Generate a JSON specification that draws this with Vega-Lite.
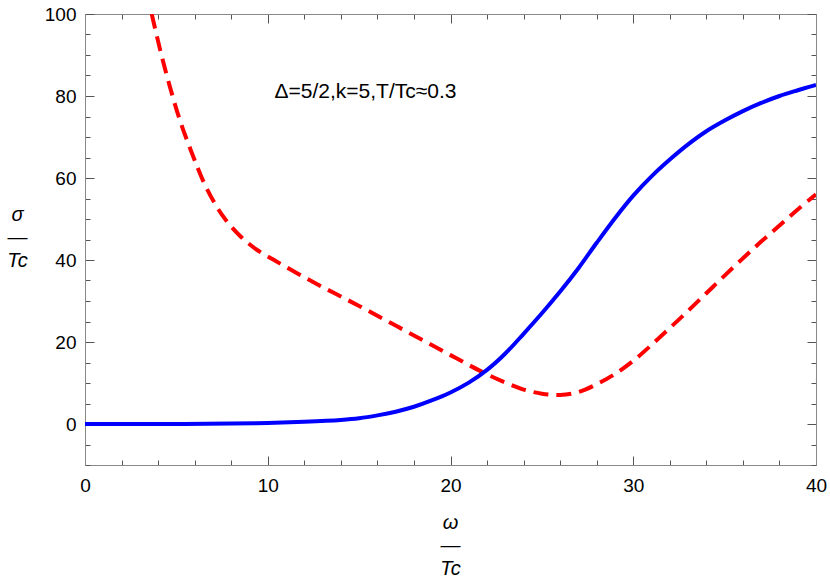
{
  "$schema": "https://vega.github.io/schema/vega-lite/v6.json",
  "width": 731,
  "height": 451,
  "autosize": "none",
  "padding": {"left": 85, "top": 14, "right": 14, "bottom": 120},
  "background": "white",
  "config": {"view": {"stroke": null}, "font": "Liberation Sans"},
  "datasets": {
    "red": [
      {"w": 3.65, "s": 100}, {"w": 4.1, "s": 91.5}, {"w": 4.6, "s": 83}, {"w": 5.2, "s": 74},
      {"w": 5.9, "s": 65.5}, {"w": 6.6, "s": 58}, {"w": 7.5, "s": 51}, {"w": 8.5, "s": 45.8},
      {"w": 9.4, "s": 42.5}, {"w": 10.3, "s": 40.1}, {"w": 11, "s": 38.3}, {"w": 12, "s": 35.8},
      {"w": 13, "s": 33.4}, {"w": 14, "s": 31.1}, {"w": 15, "s": 28.8}, {"w": 16, "s": 26.4},
      {"w": 17, "s": 24}, {"w": 18, "s": 21.6}, {"w": 19, "s": 19.2}, {"w": 20, "s": 16.8},
      {"w": 21, "s": 14.4}, {"w": 22, "s": 12.1}, {"w": 23, "s": 10.1}, {"w": 24, "s": 8.4},
      {"w": 25, "s": 7.4}, {"w": 26, "s": 7.1}, {"w": 27, "s": 7.8}, {"w": 28, "s": 9.7},
      {"w": 29, "s": 12.2}, {"w": 30, "s": 15.4}, {"w": 31, "s": 19.3}, {"w": 32, "s": 23.4},
      {"w": 33, "s": 27.6}, {"w": 34, "s": 31.9}, {"w": 35, "s": 36.2}, {"w": 36, "s": 40.4},
      {"w": 37, "s": 44.5}, {"w": 38, "s": 48.4}, {"w": 39, "s": 52.3}, {"w": 40, "s": 56}
    ],
    "blue": [
      {"w": 0, "s": 0}, {"w": 4, "s": 0}, {"w": 8, "s": 0.1}, {"w": 10, "s": 0.25},
      {"w": 12, "s": 0.55}, {"w": 14, "s": 1.0}, {"w": 15, "s": 1.4}, {"w": 16, "s": 2.1},
      {"w": 17, "s": 3.0}, {"w": 18, "s": 4.2}, {"w": 19, "s": 5.8}, {"w": 20, "s": 7.7},
      {"w": 21, "s": 10.1}, {"w": 22, "s": 13.2}, {"w": 23, "s": 17.2}, {"w": 24, "s": 22},
      {"w": 25, "s": 27}, {"w": 26, "s": 32.3}, {"w": 27, "s": 38}, {"w": 28, "s": 44.2},
      {"w": 29, "s": 50.2}, {"w": 30, "s": 55.7}, {"w": 31, "s": 60.4}, {"w": 32, "s": 64.5},
      {"w": 33, "s": 68.2}, {"w": 34, "s": 71.4}, {"w": 35, "s": 74}, {"w": 36, "s": 76.3},
      {"w": 37, "s": 78.3}, {"w": 38, "s": 80}, {"w": 39, "s": 81.4}, {"w": 40, "s": 82.7}
    ],
    "note": [{"w": 10.37, "s": 81, "label": "Δ=5/2,k=5,T/Tc≈0.3"}]
  },
  "layer": [
    {
      "data": {"name": "red"},
      "mark": {"type": "line", "color": "#ff0000", "strokeWidth": 4, "strokeDash": [15, 8], "interpolate": "catmull-rom", "clip": true},
      "encoding": {
        "x": {"field": "w", "type": "quantitative",
          "scale": {"domain": [0, 40], "nice": false, "zero": false},
          "axis": {"orient": "bottom", "values": [0,2,4,6,8,10,12,14,16,18,20,22,24,26,28,30,32,34,36,38,40],
            "tickSize": {"condition": {"test": "datum.value % 10 === 0", "value": -9}, "value": -5},
            "labelExpr": "datum.value % 10 === 0 ? datum.label : ''",
            "labelFont": "Liberation Sans", "labelFontSize": 19, "labelColor": "black", "labelPadding": 20, "labelFlush": false,
            "labelBaseline": "top",
            "domainColor": "#888888", "tickColor": "#555555", "grid": false,
            "title": ["ω", "—", "Tc"], "titleFont": "Liberation Sans", "titleFontSize": 20, "titleFontStyle": "italic", "titleFontWeight": "normal",
            "titleColor": "black", "titleLineHeight": 23, "titleBaseline": "middle", "titleAlign": "center", "titleX": 365, "titleY": 57, "titleAnchor": null}},
        "y": {"field": "s", "type": "quantitative",
          "scale": {"domain": [-10, 100], "nice": false, "zero": false},
          "axis": {"orient": "left", "values": [-10,-5,0,5,10,15,20,25,30,35,40,45,50,55,60,65,70,75,80,85,90,95,100],
            "tickSize": {"condition": {"test": "datum.value % 20 === 0", "value": -9}, "value": -5},
            "labelExpr": "datum.value % 20 === 0 ? datum.label : ''",
            "labelFont": "Liberation Sans", "labelFontSize": 19, "labelColor": "black", "labelPadding": 18, "labelFlush": false,
            "domainColor": "#888888", "tickColor": "#555555", "grid": false,
            "title": ["σ", "—", "Tc"], "titleFont": "Liberation Sans", "titleFontSize": 20, "titleFontStyle": "italic", "titleFontWeight": "normal",
            "titleColor": "black", "titleAngle": 0, "titleLineHeight": 23, "titleBaseline": "middle", "titleAlign": "center", "titleX": -68, "titleY": 200}}
      }
    },
    {
      "data": {"name": "blue"},
      "mark": {"type": "line", "color": "#0000ff", "strokeWidth": 4, "interpolate": "catmull-rom", "clip": true},
      "encoding": {
        "x": {"field": "w", "type": "quantitative",
          "axis": {"orient": "top", "values": [0,2,4,6,8,10,12,14,16,18,20,22,24,26,28,30,32,34,36,38,40],
            "tickSize": {"condition": {"test": "datum.value % 10 === 0", "value": -9}, "value": -5},
            "labels": false, "title": null, "domainColor": "#888888", "tickColor": "#555555", "grid": false}},
        "y": {"field": "s", "type": "quantitative",
          "axis": {"orient": "right", "values": [-10,-5,0,5,10,15,20,25,30,35,40,45,50,55,60,65,70,75,80,85,90,95,100],
            "tickSize": {"condition": {"test": "datum.value % 20 === 0", "value": -9}, "value": -5},
            "labels": false, "title": null, "domainColor": "#888888", "tickColor": "#555555", "grid": false}}
      }
    },
    {
      "data": {"name": "note"},
      "mark": {"type": "text", "align": "left", "baseline": "middle", "font": "Liberation Sans", "fontSize": 21, "color": "black"},
      "encoding": {
        "x": {"field": "w", "type": "quantitative", "axis": null},
        "y": {"field": "s", "type": "quantitative", "axis": null},
        "text": {"field": "label"}
      }
    }
  ],
  "resolve": {"axis": {"x": "independent", "y": "independent"}}
}
